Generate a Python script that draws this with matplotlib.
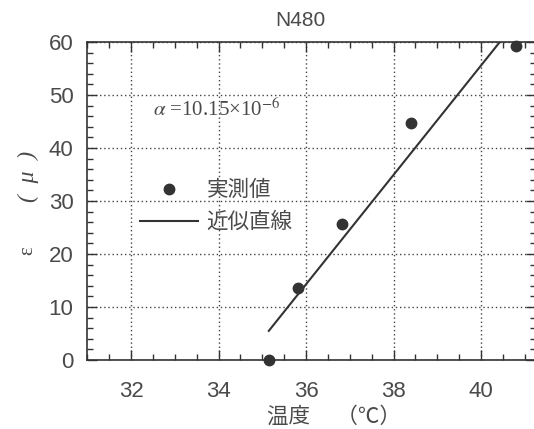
import matplotlib
matplotlib.use("Agg")
import matplotlib.pyplot as plt
from matplotlib.ticker import MultipleLocator

# measured points: temperature (deg C) vs strain (micro)
temp = [35.15, 35.82, 36.82, 38.40, 40.80]
strain = [0.0, 13.6, 25.7, 44.7, 59.2]

# approximate straight line, end points
fit_temp = [35.15, 40.43]
fit_strain = [5.5, 60.0]

x_ticks = [32, 34, 36, 38, 40]
y_ticks = [0, 10, 20, 30, 40, 50, 60]

ink = "#333333"
txt = "#4a4a4a"
cjk = ["Noto Sans CJK JP", "DejaVu Sans"]
serif = ["Liberation Serif", "Noto Sans CJK JP"]

plt.rcParams["mathtext.fontset"] = "stix"

W, H = 534, 429
fig = plt.figure(figsize=(W / 100, H / 100), dpi=100)

x0, x1 = 31.0, 41.25
px_per_x = 43.75
left_px = 131 - (32 - x0) * px_per_x
right_px = 131 + (x1 - 32) * px_per_x
top_px, bot_px = 42, 360
ax = fig.add_axes([left_px / W, 1 - bot_px / H,
                   (right_px - left_px) / W, (bot_px - top_px) / H])

ax.plot(fit_temp, fit_strain, color=ink, lw=1.5, label="近似直線", zorder=3)
ax.plot(temp, strain, "o", color=ink, ms=7.5, clip_on=False, zorder=4,
        label="実測値")

ax.set_xlim(x0, x1)
ax.set_ylim(0, 60)
ax.set_xticks(x_ticks)
ax.set_yticks(y_ticks)
ax.xaxis.set_minor_locator(MultipleLocator(0.5))
ax.yaxis.set_minor_locator(MultipleLocator(2))
ax.tick_params(which="both", direction="in", top=True, right=True,
               color=ink, width=1.0)
ax.tick_params(which="major", length=7, labelsize=16, labelcolor=txt)
ax.tick_params(which="minor", length=4.5)
ax.tick_params(axis="x", pad=15)
ax.tick_params(axis="y", pad=10)
for lab in ax.get_xticklabels() + ax.get_yticklabels():
    lab.set_family("Liberation Sans")
for sp in ax.spines.values():
    sp.set_color(ink)
    sp.set_linewidth(1.2)

ax.grid(True, which="major", color="#444444", ls=(0, (1, 2)), lw=1.0)

handles, labels = ax.get_legend_handles_labels()
ax.legend(handles[::-1], labels[::-1], loc="upper left",
          bbox_to_anchor=(0.098, 0.595), frameon=False,
          prop={"family": cjk, "size": 15.5}, labelcolor=txt,
          handlelength=2.7, handletextpad=0.4, labelspacing=0.45,
          borderaxespad=0)

ax.text(32.5, 47.3, r"$\alpha$ =10.15×10$^{-6}$", color=txt, fontsize=15,
        family=serif, va="center", ha="left")

fig.text(300 / W, 1 - 20 / H, "N480", ha="center", va="center",
         fontsize=15, color=txt, family="Liberation Sans")
fig.text(334 / W, 1 - 417 / H, "温度　 （℃）", ha="center", va="center",
         fontsize=15.5, color=txt, family=cjk)
# y label: epsilon and unit, stacked along the left edge
fig.text(28 / W, 1 - 251 / H, "ε", ha="center", va="center",
         rotation=90, fontsize=15, color=txt, family=serif)
fig.text(28 / W, 1 - 176 / H, "(  μ  )", ha="center", va="center",
         rotation=90, fontsize=17, color=txt, family=serif, style="italic")

fig.savefig("out.png", dpi=100)
